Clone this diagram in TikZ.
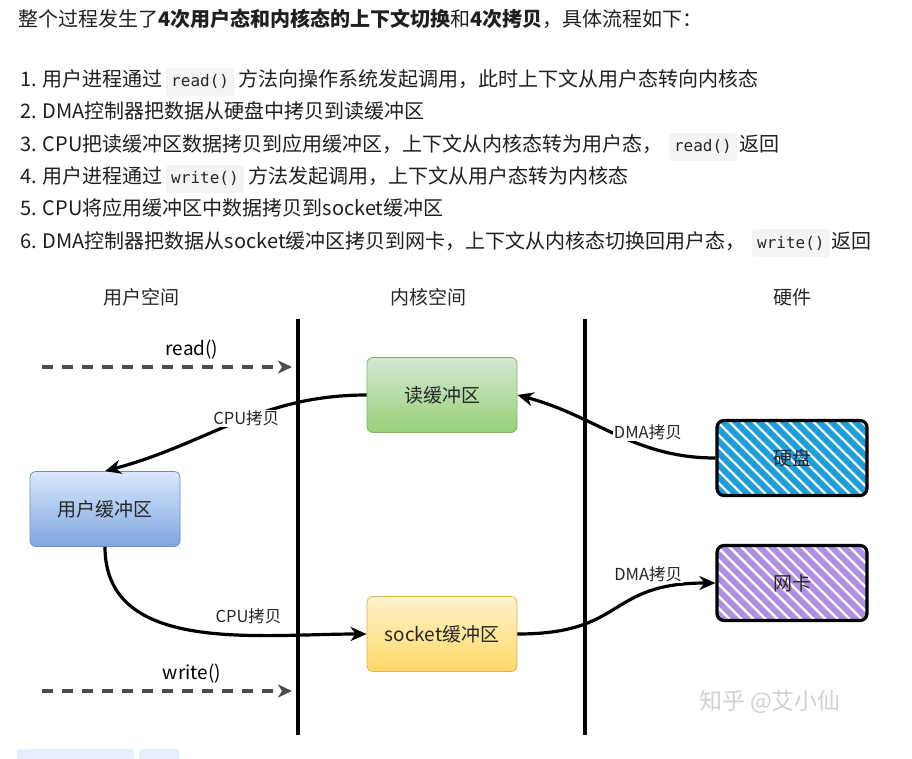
\documentclass[tikz,border=0pt]{standalone}
\usepackage{fontspec}
\setmainfont{Noto Sans CJK SC}
\newfontfamily\codefont{DejaVu Sans Mono}
\usetikzlibrary{positioning,arrows.meta}
\definecolor{codebg}{HTML}{F4F4F4}
\definecolor{tagbg}{HTML}{E6EEFD}
\definecolor{rbtop}{HTML}{D5E8D4}\definecolor{rbbot}{HTML}{97D077}\definecolor{rbline}{HTML}{82B366}
\definecolor{ubtop}{HTML}{DAE8FC}\definecolor{ubbot}{HTML}{7EA6E0}\definecolor{ubline}{HTML}{6C8EBF}
\definecolor{sbtop}{HTML}{FFF2CC}\definecolor{sbbot}{HTML}{FFD966}\definecolor{sbline}{HTML}{D6B656}
\definecolor{hdblue}{HTML}{1E9FDC}
\definecolor{ncpurple}{HTML}{B08EE0}

\begin{document}
\begin{tikzpicture}[x=1pt,y=-1pt,
  txt/.style={inner sep=0pt,font=\fontsize{20}{24}\selectfont,text=black!88},
  code/.style={fill=codebg,rounded corners=3pt,inner xsep=5pt,inner ysep=6pt,
    text height=13pt,text depth=3pt,font=\codefont\fontsize{16}{18}\selectfont,text=black!85},
  head/.style={font=\fontsize{19}{22}\selectfont,text=black!85},
  buf/.style={rounded corners=6pt,minimum width=150pt,minimum height=75pt,
    font=\fontsize{19}{22}\selectfont,text=black!85,line width=.8pt},
  hw/.style={draw=black,line width=3.2pt,rounded corners=7pt,minimum width=150pt,
    minimum height=75pt,font=\fontsize{19}{22}\selectfont,text=black!85,
    path picture={\foreach \k in {-9,...,15}
      \draw[#1,line width=6pt] (path picture bounding box.north west) ++(\k*12,-5) -- ++(90,90);}},
  flow/.style={line width=3.2pt,-{Stealth[length=16pt,width=14pt,inset=5pt]}},
  call/.style={draw=black!70,line width=3.2pt,dash pattern=on 11pt off 9pt,
    -{Stealth[length=14pt,width=13pt,inset=4pt]}},
  lbl/.style={font=\fontsize{16.5}{18}\selectfont,text=black!85,fill=white,inner sep=1pt},
  sep/.style={line width=3.4pt}]
\useasboundingbox[fill=white] (0,0) rectangle (912,759);

% text above the picture
\node[txt,anchor=base west] (l0) at (18,27) {整个过程发生了\textbf{4次用户态和内核态的上下文切换}和\textbf{4次拷贝}，具体流程如下：};
\node[txt,anchor=base west] (l1a) at (20,87) {1. 用户进程通过};
\node[code,base right=3pt of l1a] (l1c) {read()};
\node[txt,base right=4pt of l1c] (l1b) {方法向操作系统发起调用，此时上下文从用户态转向内核态};
\node[txt,anchor=base west] (l2) at (20,119) {2. DMA控制器把数据从硬盘中拷贝到读缓冲区};
\node[txt,anchor=base west] (l3a) at (20,152) {3. CPU把读缓冲区数据拷贝到应用缓冲区，上下文从内核态转为用户态，};
\node[code,base right=6pt of l3a] (l3c) {read()};
\node[txt,base right=2pt of l3c] (l3b) {返回};
\node[txt,anchor=base west] (l4a) at (20,184) {4. 用户进程通过};
\node[code,base right=3pt of l4a] (l4c) {write()};
\node[txt,base right=4pt of l4c] (l4b) {方法发起调用，上下文从用户态转为内核态};
\node[txt,anchor=base west] (l5) at (20,216) {5. CPU将应用缓冲区中数据拷贝到socket缓冲区};
\node[txt,anchor=base west] (l6a) at (20,248) {6. DMA控制器把数据从socket缓冲区拷贝到网卡，上下文从内核态切换回用户态，};
\node[code,base right=6pt of l6a] (l6c) {write()};
\node[txt,base right=2pt of l6c] (l6b) {返回};

% the picture
\node[head] (huser) at (141,297) {用户空间};
\node[head] (hkern) at (428,297) {内核空间};
\node[head] (hhw) at (792,297) {硬件};
\coordinate (s1top) at (298,319);\coordinate (s1bot) at (298,735);
\coordinate (s2top) at (585,319);\coordinate (s2bot) at (585,735);
\draw[sep] (s1top) -- (s1bot);
\draw[sep] (s2top) -- (s2bot);

\node[buf,draw=rbline,top color=rbtop,bottom color=rbbot] (rb) at (442,395) {读缓冲区};
\node[buf,draw=ubline,top color=ubtop,bottom color=ubbot] (ub) at (105,509) {用户缓冲区};
\node[buf,draw=sbline,top color=sbtop,bottom color=sbbot] (sb) at (442,634) {socket缓冲区};
\node[hw=hdblue] (hd) at (792,458) {硬盘};
\node[hw=ncpurple] (nc) at (792,583) {网卡};

\coordinate (rdfrom) at (42,367);\coordinate (rdto) at (292,367);
\coordinate (wrfrom) at (42,691);\coordinate (wrto) at (292,691);
\draw[call] (rdfrom) -- node[pos=.6,above=6pt,inner sep=0pt,font=\fontsize{19}{22}\selectfont] {read()} (rdto);
\draw[call] (wrfrom) -- node[pos=.6,above=6pt,inner sep=0pt,font=\fontsize{19}{22}\selectfont] {write()} (wrto);

\draw[flow] (hd.west) to[out=180,in=-15] node[lbl,pos=.32,above=5pt] {DMA拷贝} (rb.east);
\draw[flow] (rb.west) to[out=180,in=15] node[lbl,pos=.45] {CPU拷贝} (ub.north);
\draw[flow] (ub.south) to[out=-90,in=180] node[lbl,pos=.66,above=9pt] {CPU拷贝} (sb.west);
\draw[flow] (sb.east) .. controls +(110,0) and +(-110,0) .. (nc.west) node[lbl,pos=.72,above=8pt] {DMA拷贝};

\node[font=\fontsize{23}{26}\selectfont,text=black!18] (wm) at (770,702) {知乎 @艾小仙};
\fill[tagbg,rounded corners=3pt] (17,749) rectangle (134,772);
\fill[tagbg,rounded corners=3pt] (139,749) rectangle (179,772);
\end{tikzpicture}
\end{document}
